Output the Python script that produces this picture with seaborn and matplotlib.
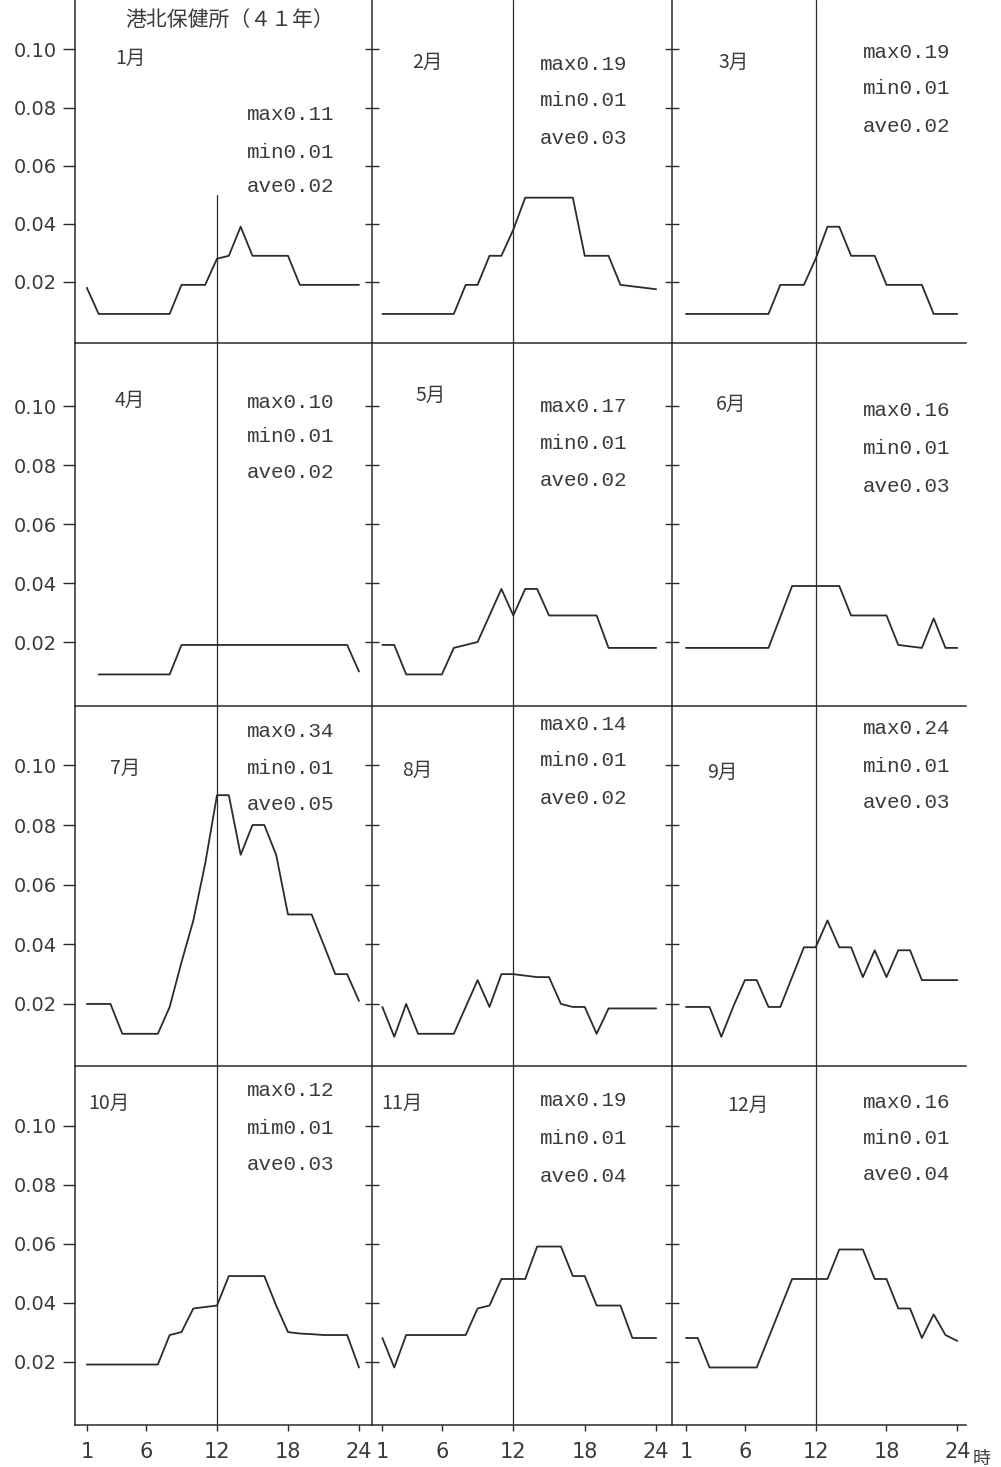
import numpy as np
import pandas as pd
import matplotlib
matplotlib.use("Agg")
import matplotlib.pyplot as plt
import seaborn as sns

# ---------------- data ----------------
hours = list(range(1, 25))
months = ["1月", "2月", "3月", "4月", "5月", "6月", "7月", "8月", "9月", "10月", "11月", "12月"]

jan = [0.018, 0.009, 0.009, 0.009, 0.009, 0.009, 0.009, 0.009, 0.019, 0.019, 0.019, 0.028,
       0.029, 0.039, 0.029, 0.029, 0.029, 0.029, 0.019, 0.019, 0.019, 0.019, 0.019, 0.019]
feb = [0.009, 0.009, 0.009, 0.009, 0.009, 0.009, 0.009, 0.019, 0.019, 0.029, 0.029, 0.038,
       0.049, 0.049, 0.049, 0.049, 0.049, 0.029, 0.029, 0.029, 0.019, 0.0185, 0.018, 0.0175]
mar = [0.009, 0.009, 0.009, 0.009, 0.009, 0.009, 0.009, 0.009, 0.019, 0.019, 0.019, 0.028,
       0.039, 0.039, 0.029, 0.029, 0.029, 0.019, 0.019, 0.019, 0.019, 0.009, 0.009, 0.009]
apr = [np.nan, 0.009, 0.009, 0.009, 0.009, 0.009, 0.009, 0.009, 0.019, 0.019, 0.019, 0.019,
       0.019, 0.019, 0.019, 0.019, 0.019, 0.019, 0.019, 0.019, 0.019, 0.019, 0.019, 0.010]
may = [0.019, 0.019, 0.009, 0.009, 0.009, 0.009, 0.018, 0.019, 0.020, 0.029, 0.038, 0.029,
       0.038, 0.038, 0.029, 0.029, 0.029, 0.029, 0.029, 0.018, 0.018, 0.018, 0.018, 0.018]
jun = [0.018, 0.018, 0.018, 0.018, 0.018, 0.018, 0.018, 0.018, 0.0285, 0.039, 0.039, 0.039,
       0.039, 0.039, 0.029, 0.029, 0.029, 0.029, 0.019, 0.0185, 0.018, 0.028, 0.018, 0.018]
jul = [0.020, 0.020, 0.020, 0.010, 0.010, 0.010, 0.010, 0.019, 0.034, 0.048, 0.067, 0.090,
       0.090, 0.070, 0.080, 0.080, 0.070, 0.050, 0.050, 0.050, 0.040, 0.030, 0.030, 0.021]
aug = [0.019, 0.009, 0.020, 0.010, 0.010, 0.010, 0.010, 0.019, 0.028, 0.019, 0.030, 0.030,
       0.0295, 0.029, 0.029, 0.020, 0.019, 0.019, 0.010, 0.0185, 0.0185, 0.0185, 0.0185, 0.0185]
sep = [0.019, 0.019, 0.019, 0.009, 0.019, 0.028, 0.028, 0.019, 0.019, 0.029, 0.039, 0.039,
       0.048, 0.039, 0.039, 0.029, 0.038, 0.029, 0.038, 0.038, 0.028, 0.028, 0.028, 0.028]
oct_ = [0.019, 0.019, 0.019, 0.019, 0.019, 0.019, 0.019, 0.029, 0.030, 0.038, 0.0385, 0.039,
        0.049, 0.049, 0.049, 0.049, 0.039, 0.030, 0.0295, 0.0293, 0.029, 0.029, 0.029, 0.018]
nov = [0.028, 0.018, 0.029, 0.029, 0.029, 0.029, 0.029, 0.029, 0.038, 0.039, 0.048, 0.048,
       0.048, 0.059, 0.059, 0.059, 0.049, 0.049, 0.039, 0.039, 0.039, 0.028, 0.028, 0.028]
dec = [0.028, 0.028, 0.018, 0.018, 0.018, 0.018, 0.018, 0.028, 0.038, 0.048, 0.048, 0.048,
       0.048, 0.058, 0.058, 0.058, 0.048, 0.048, 0.038, 0.038, 0.028, 0.036, 0.029, 0.027]
series = [jan, feb, mar, apr, may, jun, jul, aug, sep, oct_, nov, dec]

max_labels = ["max0.11", "max0.19", "max0.19", "max0.10", "max0.17", "max0.16",
              "max0.34", "max0.14", "max0.24", "max0.12", "max0.19", "max0.16"]
min_labels = ["min0.01", "min0.01", "min0.01", "min0.01", "min0.01", "min0.01",
              "min0.01", "min0.01", "min0.01", "mim0.01", "min0.01", "min0.01"]
ave_labels = ["ave0.02", "ave0.03", "ave0.02", "ave0.02", "ave0.02", "ave0.03",
              "ave0.05", "ave0.02", "ave0.03", "ave0.03", "ave0.04", "ave0.04"]
title_text = "港北保健所（４１年）"
y_ticks = [0.02, 0.04, 0.06, 0.08, 0.10]
y_ticklabels = ["0.02", "0.04", "0.06", "0.08", "0.10"]
x_ticks = [1, 6, 12, 18, 24]
x_ticklabels = ["1", "6", "12", "18", "24"]
hour_unit = "時"

df = pd.DataFrame({
    "month": np.repeat(months, 24),
    "hour": hours * 12,
    "value": np.concatenate([np.array(s, dtype=float) for s in series]),
})

# ---------------- layout / style ----------------
sns.set_style("white")
plt.rcParams["font.family"] = ["DejaVu Sans", "Noto Sans CJK JP"]

W, H = 1001, 1467
fig = plt.figure(figsize=(W / 100, H / 100), dpi=100)
fig.patch.set_facecolor("white")

col_left = [75, 372, 672]
col_right = [372, 672, 966]
col_xlim = [(0.0, 25.1), (0.13, 25.33), (-0.18, 24.74)]
row_top = [0, 343, 706, 1066]
row_bot = [343, 706, 1066, 1425]
row_ylim = [(-0.001, 0.117), (-0.0017, 0.1214), (-0.0008, 0.1199), (-0.0015, 0.1202)]

ink = "#2b2b2b"
txt = "#3a3a3a"

# text positions in pixels (left x, centre y)
month_pos = [(115, 58), (412, 62), (718, 62), (115, 400), (415, 395), (716, 404),
             (110, 768), (402, 770), (707, 772), (88, 1103), (381, 1103), (727, 1105)]
stat_x = [247, 540, 863]
stat_y = [(115, 152, 187), (65, 101, 138), (52, 89, 126),
          (402, 437, 473), (406, 443, 480), (411, 449, 486),
          (731, 768, 804), (725, 761, 798), (728, 767, 803),
          (1091, 1128, 1165), (1101, 1139, 1177), (1102, 1138, 1175)]

def fx(px):
    return px / W

def fy(py):
    return 1 - py / H

for i, m in enumerate(months):
    r, c = divmod(i, 3)
    ax = fig.add_axes([fx(col_left[c]), fy(row_bot[r]),
                       (col_right[c] - col_left[c]) / W, (row_bot[r] - row_top[r]) / H])
    ax.set_facecolor("none")
    sub = df[df["month"] == m].dropna()
    sns.lineplot(data=sub, x="hour", y="value", ax=ax, color=ink, linewidth=1.3,
                 estimator=None, sort=True)
    ax.set_xlim(*col_xlim[c])
    ax.set_ylim(*row_ylim[r])
    ax.set_xlabel("")
    ax.set_ylabel("")
    for s in ["top", "right"]:
        ax.spines[s].set_visible(False)
    for s in ["left", "bottom"]:
        ax.spines[s].set_color(ink)
        ax.spines[s].set_linewidth(1.1)
    # 12 o'clock reference line
    lo, hi = row_ylim[r]
    if i == 0:
        ax.axvline(12, ymax=(0.05 - lo) / (hi - lo), color=ink, lw=0.9)
    else:
        ax.axvline(12, color=ink, lw=0.9)

    ax.set_yticks(y_ticks)
    if c == 0:
        ax.set_yticklabels(y_ticklabels)
        ax.tick_params(axis="y", direction="out", length=9, width=1.0, color=ink,
                       labelsize=14, labelcolor=txt, pad=4, left=True)
    else:
        ax.set_yticklabels([])
        ax.tick_params(axis="y", direction="inout", length=10, width=1.0, color=ink, left=True)

    if r == 3:
        ax.set_xticks(x_ticks)
        ax.set_xticklabels(x_ticklabels)
        ax.tick_params(axis="x", direction="out", length=4, width=1.0, color=ink,
                       labelsize=15, labelcolor=txt, pad=8, bottom=True)
    else:
        ax.set_xticks([])

    # month label
    mx, my = month_pos[i]
    fig.text(fx(mx), fy(my), m, fontsize=14, color=txt, ha="left", va="center",
             family=["Noto Sans CJK JP", "DejaVu Sans"])
    # stats
    for lab, yy in zip([max_labels[i], min_labels[i], ave_labels[i]], stat_y[i]):
        fig.text(fx(stat_x[c]), fy(yy), lab, fontsize=15, color=txt, ha="left", va="center",
                 family=["Liberation Mono", "DejaVu Sans Mono"])

fig.text(fx(125), fy(20), title_text, fontsize=15, color=txt, ha="left", va="center",
         family=["Noto Sans CJK JP", "DejaVu Sans"])
fig.text(fx(973), fy(1459), hour_unit, fontsize=13, color=txt, ha="left", va="center",
         family=["Noto Sans CJK JP", "DejaVu Sans"])

fig.savefig("out.png", dpi=100, facecolor="white")
